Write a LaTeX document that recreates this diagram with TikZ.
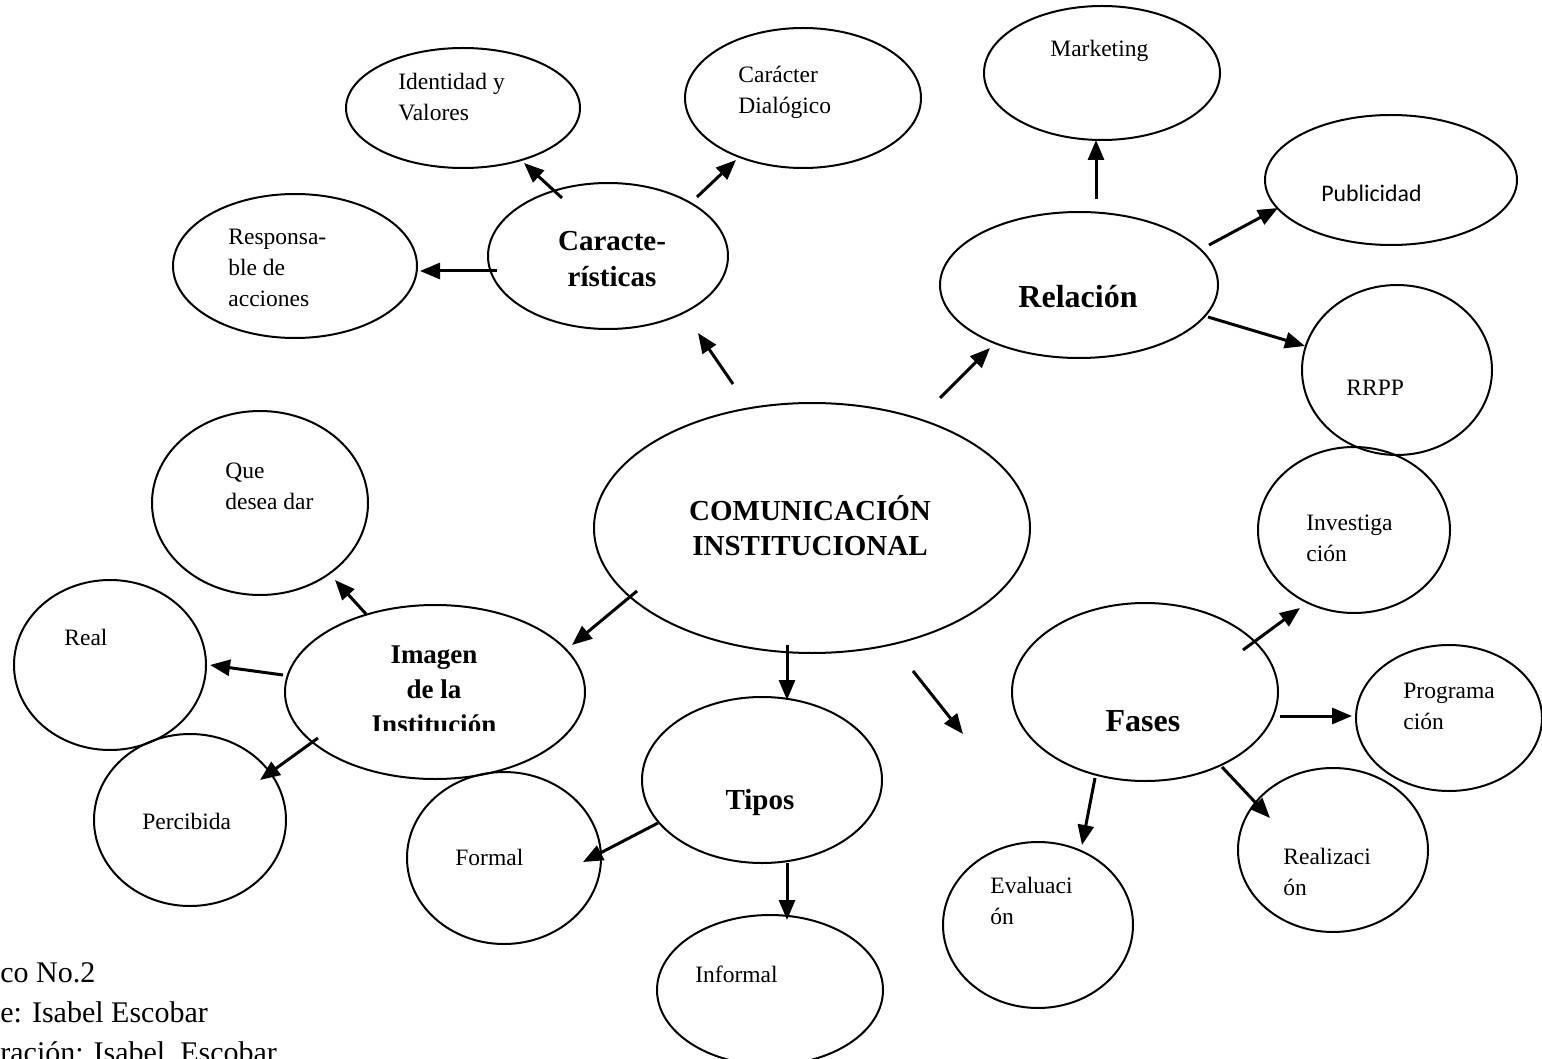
\documentclass[tikz,border=0pt]{standalone}
\usepackage{fontspec}
\setmainfont{Liberation Serif}
\newfontfamily\calibri{Carlito}
\usetikzlibrary{shapes.geometric,arrows.meta,calc}
\newcommand\mlines[1]{\begin{tabular}[t]{@{}l@{}}#1\end{tabular}}
\newcommand\mlinesc[1]{\begin{tabular}[t]{@{}c@{}}#1\end{tabular}}
\tikzset{
  oval/.style 2 args={draw, ellipse, line width=1pt, inner sep=0pt, minimum width=#1pt, minimum height=#2pt},
  txt/.style={anchor=base west, inner sep=0pt, font=\fontsize{11.75}{15.5}\selectfont},
  bold/.style={anchor=base, inner sep=0pt, font=\bfseries\fontsize{#1}{17.5}\selectfont},
  arr/.style={line width=1.5pt, -{Triangle[length=10pt,width=8pt]}}
}
\begin{document}
\begin{tikzpicture}[x=0.5pt,y=-0.5pt]
\path[use as bounding box, clip] (0,0) rectangle (1542,1059);
% ellipses
\node[oval={117}{60}] (ident) at (463,108) {};
\node[oval={118}{70}] (carac) at (803,98) {};
\node[oval={118}{67}] (mkt) at (1102,73) {};
\node[oval={126}{65}] (pub) at (1391,180) {};
\node[oval={122}{72}] (resp) at (295,266) {};
\node[oval={120}{73}] (car) at (608,256) {};
\node[oval={139}{73}] (rel) at (1079,285) {};
\node[oval={95}{85}] (rrpp) at (1397,370) {};
\node[oval={218}{125}] (com) at (812,528) {};
\node[oval={108}{92}] (que) at (260,503) {};
\node[oval={96}{83}] (inv) at (1354,530) {};
\node[oval={96}{85}] (real) at (110,665) {};
\node[oval={150}{87}] (img) at (435,692) {};
\node[oval={133}{89}] (fas) at (1145,692) {};
\node[oval={93}{73}] (prog) at (1449,718) {};
\node[oval={120}{83}] (tip) at (762,780) {};
\node[oval={96}{86}] (perc) at (190,820) {};
\node[oval={97}{86}] (form) at (504,858) {};
\node[oval={95}{82}] (reali) at (1333,850) {};
\node[oval={95}{83}] (eval) at (1038,925) {};
\node[oval={113}{75}] (inf) at (770,990) {};
% texts
\node[txt] (t-ident) at (398,90) {\mlines{Identidad y\\Valores}};
\node[txt] (t-carac) at (738,83) {\mlines{Carácter\\Dialógico}};
\node[txt] (t-mkt) at (1050,57) {Marketing};
\node[txt, font=\calibri\fontsize{11.9}{15.5}\selectfont] (t-pub) at (1321,202) {Publicidad};
\node[txt] (t-resp) at (228,245) {\mlines{Responsa-\\ble de\\acciones}};
\node[bold=14.5] (t-car) at (612,251) {\mlinesc{Caracte-\\rísticas}};
\node[bold=16] (t-rel) at (1078,307) {Relación};
\node[txt] (t-rrpp) at (1346,395) {RRPP};
\node[bold=14.5] (t-com) at (810,520) {\mlinesc{COMUNICACIÓN\\INSTITUCIONAL}};
\node[txt] (t-que) at (225,478) {\mlines{Que\\desea dar}};
\node[txt] (t-inv) at (1306,530) {\mlines{Investiga\\ción}};
\node[txt] (t-real) at (64,645) {Real};
\begin{scope}
\clip (280,600) rectangle (600,730);
\node[bold=13.5] (t-img) at (434,663) {\mlinesc{Imagen\\de la\\Institución}};
\end{scope}
\node[bold=16] (t-fas) at (1143,731) {Fases};
\node[txt] (t-prog) at (1403,698) {\mlines{Programa\\ción}};
\node[bold=14.5] (t-tip) at (760,809) {Tipos};
\node[txt] (t-perc) at (142,829) {Percibida};
\node[txt] (t-form) at (455,865) {Formal};
\node[txt] (t-reali) at (1283,864) {\mlines{Realizaci\\ón}};
\node[txt] (t-eval) at (990,893) {\mlines{Evaluaci\\ón}};
\node[txt] (t-inf) at (695,982) {Informal};
\node[txt, font=\fontsize{15}{20}\selectfont] (src) at (0,982) {\mlines{co No.2\\e: Isabel Escobar\\ración: Isabel\ \ Escobar}};
% connectors
\draw[arr] ($(car)+(-46,-58)$) -- ($(ident)+(61,55)$);
\draw[arr] ($(car)+(89,-59)$) -- ($(carac)+(-67,62)$);
\draw[arr] ($(car)+(-111,15)$) -- ($(resp)+(125,5)$);
\draw[arr] ($(com)+(-79,-144)$) -- ($(car)+(90,77)$);
\draw[arr] ($(com)+(128,-130)$) -- ($(rel)+(-89,63)$);
\draw[arr] ($(rel)+(17,-86)$) -- ($(mkt)+(-6,67)$);
\draw[arr] ($(rel)+(130,-40)$) -- ($(pub)+(-113,28)$);
\draw[arr] ($(rel)+(129,32)$) -- ($(rrpp)+(-92,-24)$);
\draw[arr] ($(com)+(-175,63)$) -- ($(img)+(137,-47)$);
\draw[arr] ($(img)+(-69,-78)$) -- ($(que)+(75,77)$);
\draw[arr] ($(img)+(-152,-17)$) -- ($(real)+(100,0)$);
\draw[arr] ($(img)+(-117,46)$) -- ($(perc)+(70,-40)$);
\draw[arr] ($(com)+(-25,117)$) -- ($(tip)+(25,-80)$);
\draw[arr] ($(com)+(101,143)$) -- ($(fas)+(-182,42)$);
\draw[arr] ($(fas)+(98,-42)$) -- ($(inv)+(-54,78)$);
\draw[arr] ($(fas)+(135,24)$) -- ($(prog)+(-97,-2)$);
\draw[arr] ($(fas)+(77,75)$) -- ($(reali)+(-63,-32)$);
\draw[arr] ($(fas)+(-50,86)$) -- ($(eval)+(44,-80)$);
\draw[arr] ($(tip)+(-104,43)$) -- ($(form)+(79,4)$);
\draw[arr] ($(tip)+(25,83)$) -- ($(inf)+(17,-70)$);
\end{tikzpicture}
\end{document}
